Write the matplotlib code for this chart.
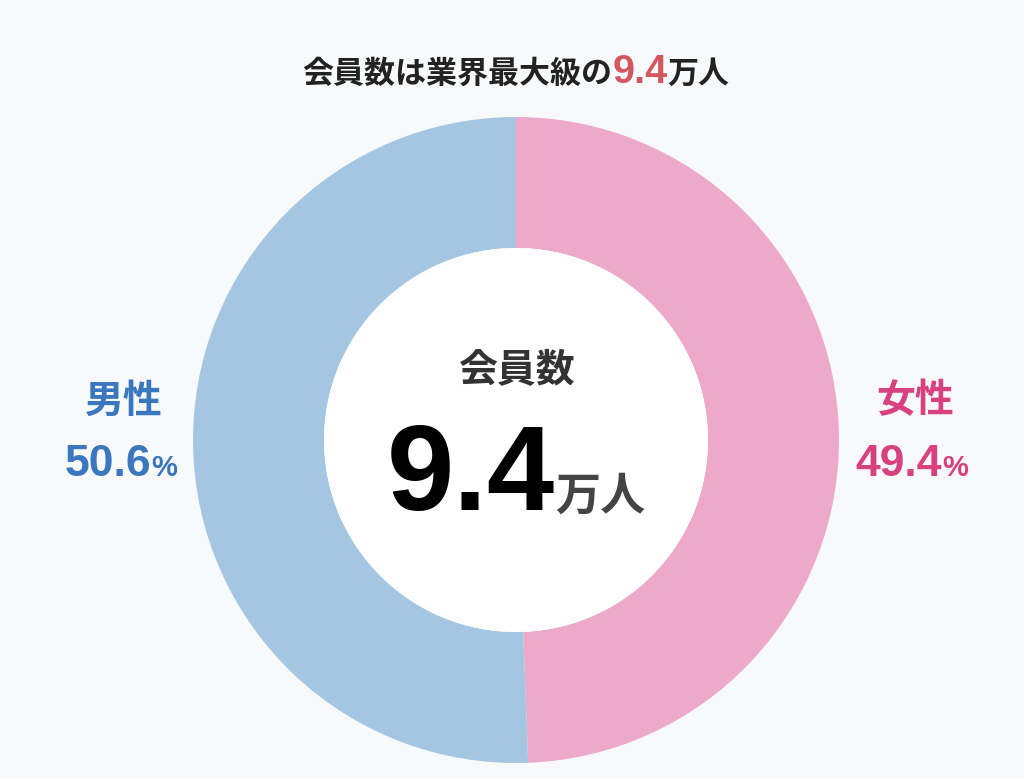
import matplotlib
matplotlib.use("Agg")
import matplotlib.pyplot as plt
from matplotlib.patches import Circle

# data -----------------------------------------------------------------------
labels = ["女性", "男性"]
shares = [49.4, 50.6]
share_text = ["49.4", "50.6"]
members = "9.4"
unit = "万人"
title_head = "会員数は業界最大級の"
center_head = "会員数"

slice_colors = ["#eca9ca", "#a5c6e3"]
text_colors = ["#d8417f", "#3a77bf"]
bg = "#f7f9fb"

W, H = 1024, 779
CJK = ["Noto Sans CJK JP", "DejaVu Sans"]
LAT = ["Liberation Sans", "Noto Sans CJK JP", "DejaVu Sans"]

fig = plt.figure(figsize=(W / 100, H / 100), dpi=100, facecolor=bg)
ax = fig.add_axes([0, 0, 1, 1])
ax.set_facecolor(bg)

# donut ------------------------------------------------------------------------
cx, cy = 516, H - 440
r_out, r_in = 323, 192
ax.pie(shares, colors=slice_colors, startangle=90, counterclock=False,
       radius=r_out, center=(cx, cy),
       wedgeprops=dict(width=r_out - r_in, edgecolor="none", linewidth=0))
ax.add_patch(Circle((cx, cy), r_in, facecolor="white", edgecolor="none", zorder=3))

ax.set_xlim(0, W)
ax.set_ylim(0, H)
ax.set_aspect("equal")
ax.axis("off")

renderer = fig.canvas.get_renderer()


def row(parts, xc, y):
    # parts: (text, size, color, family) placed side by side on one baseline
    arts = []
    for txt, size, color, fam in parts:
        t = ax.text(0, y, txt, fontsize=size, color=color, family=fam,
                    fontweight="bold", ha="left", va="baseline", zorder=5)
        arts.append(t)
    widths = [a.get_window_extent(renderer).width for a in arts]
    x = xc - sum(widths) / 2
    for a, w in zip(arts, widths):
        a.set_x(x)
        x += w
    return arts


# title
row([(title_head, 22.3, "#222222", CJK),
     (members, 28.5, "#d4565f", LAT),
     (unit, 22.3, "#222222", CJK)], 516, H - 83)

# centre
ax.text(516, H - 370, center_head, fontsize=28, color="#333333", family=CJK,
        fontweight="bold", ha="center", va="center", zorder=5)
row([(members, 87, "#000000", LAT),
     (unit, 32.5, "#444444", CJK)], 516, H - 510)

# side labels
label_x = [912, 121]
for lab, pct, col, lx in zip(labels, share_text, text_colors, label_x):
    ax.text(lx + 3, H - 401, lab, fontsize=28, color=col, family=CJK,
            fontweight="bold", ha="center", va="center", zorder=5)
    row([(pct, 32, col, LAT), ("%", 21, col, LAT)], lx, H - 476)

fig.savefig("out.png", dpi=100, facecolor=bg)
